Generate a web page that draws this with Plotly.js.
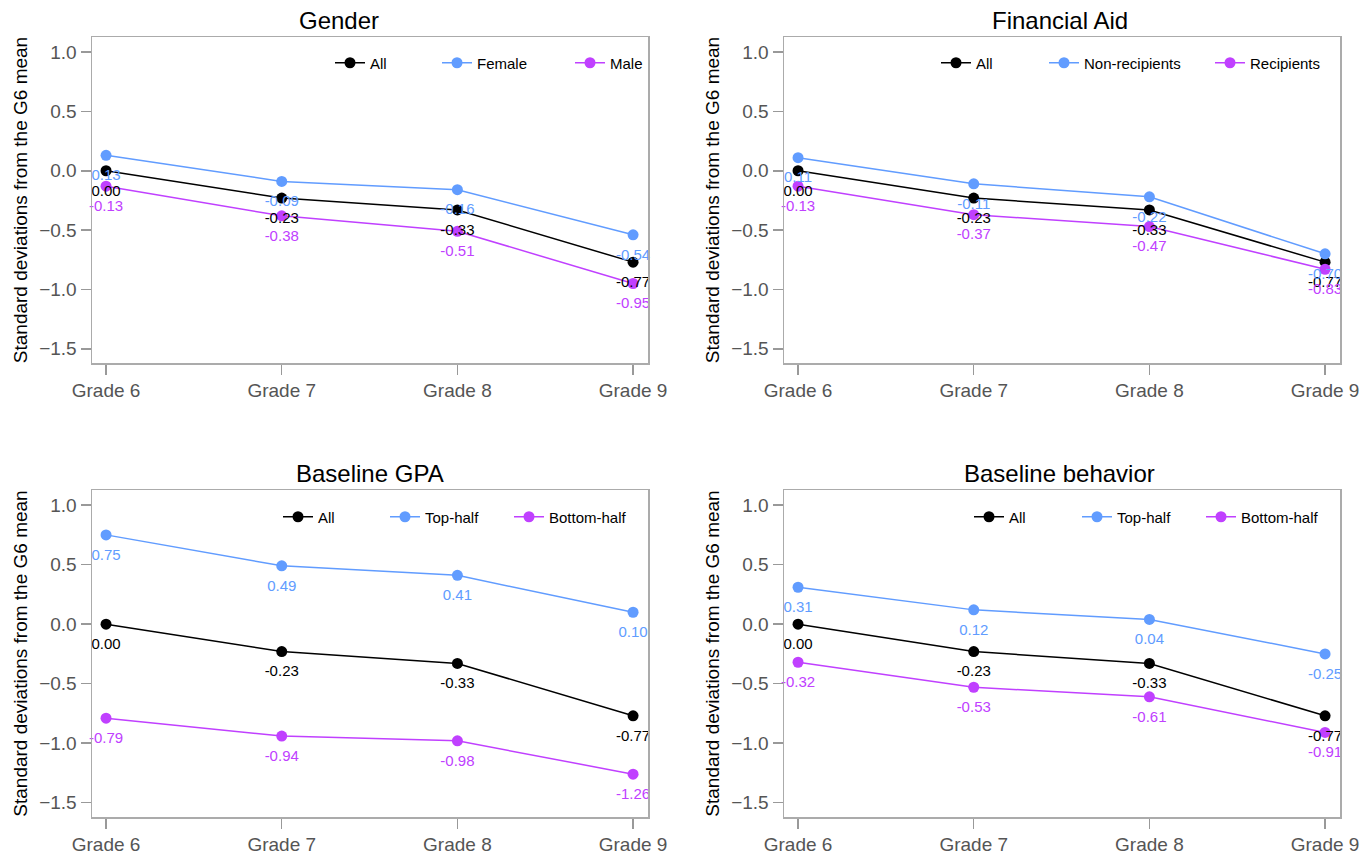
<!DOCTYPE html>
<html>
<head>
<meta charset="utf-8">
<script src="https://cdn.plot.ly/plotly-3.0.1.min.js"></script>
<style>html,body{margin:0;padding:0;background:#fff;}#chart{width:1363px;height:857px;}</style>
</head>
<body>
<div id="chart"></div>
<script>
// ---- data ----
const grades = ["Grade 6", "Grade 7", "Grade 8", "Grade 9"];
const panelTitles = ["Gender", "Financial Aid", "Baseline GPA", "Baseline behavior"];
const yTitle = "Standard deviations from the G6 mean";
const yTicks = [-1.5, -1.0, -0.5, 0.0, 0.5, 1.0];

const allStudents = [0.00, -0.23, -0.33, -0.77];

const genderNames = ["All", "Female", "Male"];
const female = [0.13, -0.09, -0.16, -0.54];
const male = [-0.13, -0.38, -0.51, -0.95];

const aidNames = ["All", "Non-recipients", "Recipients"];
const nonRecipients = [0.11, -0.11, -0.22, -0.70];
const recipients = [-0.13, -0.37, -0.47, -0.83];

const gpaNames = ["All", "Top-half", "Bottom-half"];
const gpaTop = [0.75, 0.49, 0.41, 0.10];
const gpaBottom = [-0.79, -0.94, -0.98, -1.26];

const behNames = ["All", "Top-half", "Bottom-half"];
const behTop = [0.31, 0.12, 0.04, -0.25];
const behBottom = [-0.32, -0.53, -0.61, -0.91];

// ---- styling ----
const W = 1363, H = 857;
const colors = ["#000000", "#619CFF", "#C040FF"];
const px = v => v / W;
const py = v => 1 - v / H;

const panels = [
  {names: genderNames, series: [allStudents, female, male], xd: [92, 648], yd: [37, 363], legX: 330, legY: 63, lw: [62, 88]},
  {names: aidNames, series: [allStudents, nonRecipients, recipients], xd: [784, 1340], yd: [37, 363], legX: 936, legY: 63, lw: [63, 121]},
  {names: gpaNames, series: [allStudents, gpaTop, gpaBottom], xd: [92, 648], yd: [490, 817], legX: 278, legY: 517, lw: [62, 79]},
  {names: behNames, series: [allStudents, behTop, behBottom], xd: [784, 1340], yd: [490, 817], legX: 969, legY: 517, lw: [63, 79]}
];
const titleCenters = [[339, 20], [1060, 20], [370, 473], [1059, 473]];

const data = [];
const layout = {
  width: W, height: H,
  margin: {l: 0, r: 0, t: 0, b: 0},
  paper_bgcolor: "#fff", plot_bgcolor: "#fff",
  font: {family: "Liberation Sans, Arial, sans-serif", color: "#000"},
  showlegend: true,
  annotations: []
};

panels.forEach((p, i) => {
  const k = i + 1;
  const xa = "x" + (k === 1 ? "" : k), ya = "y" + (k === 1 ? "" : k);
  const legendId = "legend" + (k === 1 ? "" : k);
  p.series.forEach((vals, j) => {
    const tr = {
      type: "scatter", mode: "lines+markers",
      x: grades, y: vals, name: p.names[j],
      xaxis: xa, yaxis: ya, legend: legendId,
      line: {color: colors[j], width: 1.5},
      marker: {color: colors[j], size: 11},
      cliponaxis: false
    };
    if (j < 2) tr.legendwidth = p.lw[j];
    data.push(tr);
  });
  // value labels (drawn below each point)
  p.series.forEach((vals, j) => {
    data.push({
      type: "scatter", mode: "markers+text",
      x: grades, y: vals, name: p.names[j] + " labels",
      xaxis: xa, yaxis: ya, showlegend: false, hoverinfo: "skip",
      marker: {color: colors[j], size: 20, opacity: 0},
      texttemplate: "%{y:.2f}", textposition: "bottom center",
      textfont: {color: colors[j], size: 15},
      cliponaxis: false
    });
  });
  layout["xaxis" + (k === 1 ? "" : k)] = {
    domain: [px(p.xd[0]), px(p.xd[1])], anchor: ya,
    type: "category", range: [-0.08, 3.085],
    showline: true, linecolor: "#ababab", linewidth: 1.5, mirror: true,
    ticks: "outside", ticklen: 10, tickcolor: "#999", tickwidth: 1.5,
    showgrid: false, zeroline: false,
    tickfont: {size: 19, color: "#555"}
  };
  layout["yaxis" + (k === 1 ? "" : k)] = {
    domain: [py(p.yd[1]), py(p.yd[0])], anchor: xa,
    range: [-1.62, 1.127],
    tickvals: yTicks, tickformat: ".1f",
    showline: true, linecolor: "#ababab", linewidth: 1.5, mirror: true,
    ticks: "outside", ticklen: 10, tickcolor: "#999", tickwidth: 1.5,
    showgrid: false, zeroline: false,
    tickfont: {size: 19, color: "#555"},
    title: {text: yTitle, font: {size: 19, color: "#000"}, standoff: 6}
  };
  layout[legendId] = {
    orientation: "h", x: px(p.legX), xanchor: "left",
    y: py(p.legY), yanchor: "middle",
    bgcolor: "rgba(0,0,0,0)", font: {size: 15, color: "#000"},
    itemclick: false
  };
  layout.annotations.push({
    text: panelTitles[i], xref: "paper", yref: "paper",
    x: px(titleCenters[i][0]), y: py(titleCenters[i][1]),
    xanchor: "center", yanchor: "middle", showarrow: false,
    font: {size: 24, color: "#000"}
  });
});

Plotly.newPlot("chart", data, layout, {displayModeBar: false, staticPlot: true});
</script>
</body>
</html>
